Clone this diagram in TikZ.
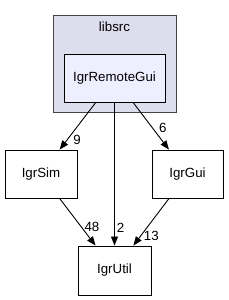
\documentclass[tikz,border=0pt]{standalone}
\usepackage{fontspec}
\setmainfont{Liberation Sans}
\usepackage{xcolor}
\usetikzlibrary{arrows.meta,positioning}
\definecolor{clusterfill}{HTML}{DDDDEE}
\definecolor{clusterline}{HTML}{444444}
\definecolor{dirfill}{HTML}{EEEEFF}

\begin{document}
\begin{tikzpicture}[
  x=1pt, y=1pt,
  font=\fontsize{13.3}{15}\selectfont,
  >={Triangle[length=9pt, width=7pt]},
  cluster/.style={draw=clusterline, fill=clusterfill, line width=1pt, inner sep=0pt},
  dirbox/.style={draw, line width=0.9pt, inner sep=0pt, minimum height=48pt},
  inner/.style={dirbox, fill=dirfill, minimum width=101pt},
  dep/.style={->, line width=0.9pt},
  cnt/.style={inner sep=1pt, font=\fontsize{13.3}{15}\selectfont},
]
  \useasboundingbox (0,0) rectangle (229,300);
  % ---------------- libsrc cluster ----------------
  \node[cluster, minimum width=123pt, minimum height=97pt] (libsrc) at (114.5,235.5) {};
  \node[below=6pt of libsrc.north, inner sep=0pt] (libsrclbl) {libsrc};
  \node[inner] (remote) at (114.5,222) {IgrRemoteGui};

  % ---------------- other directories ----------------
  \node[dirbox, minimum width=72pt] (sim) at (41,126) {IgrSim};
  \node[dirbox, minimum width=71pt] (gui) at (187.5,126) {IgrGui};
  \node[dirbox, minimum width=73pt, minimum height=49pt] (util) at (114.5,29.5) {IgrUtil};

  % ---------------- dependencies ----------------
  \draw[dep] (remote) -- node[cnt, pos=0.8, right=5pt] {9} (sim);
  \draw[dep] (remote) -- node[cnt, pos=0.55, right=5pt] {6} (gui);
  \draw[dep] (remote) -- node[cnt, pos=0.875, right=1pt] {2} (util);
  \draw[dep] (sim) -- node[cnt, pos=0.6, right=2pt] {48} (util);
  \draw[dep] (gui) -- node[cnt, pos=0.8, right=2pt] {13} (util);
\end{tikzpicture}
\end{document}
